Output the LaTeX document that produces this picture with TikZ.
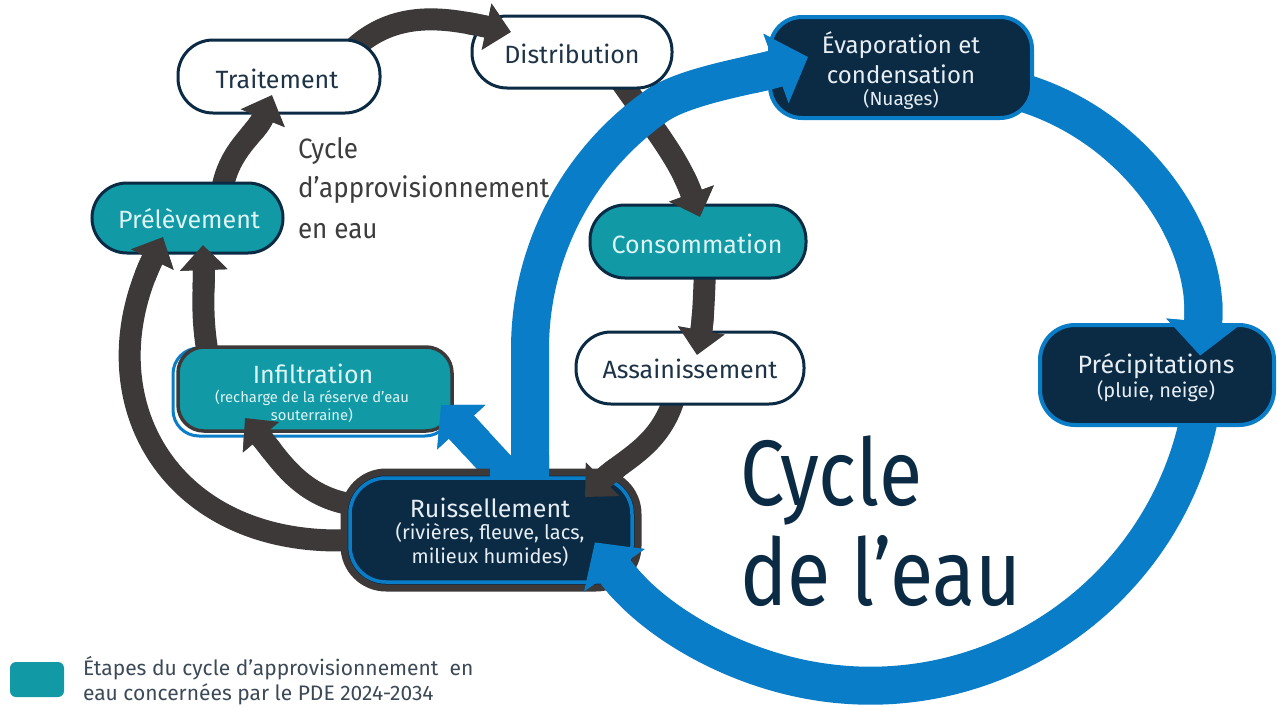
\documentclass[tikz,border=0pt]{standalone}
\usepackage{fontspec}
\setmainfont{Fira Sans}
\newfontfamily\bigfont{Fira Sans}[FakeStretch=0.85]
\newfontfamily\midfont{Fira Sans}[FakeStretch=0.93]
\usetikzlibrary{arrows.meta}
\pgfdeclarelayer{bg}
\pgfdeclarelayer{back}
\pgfsetlayers{bg,back,main}
\definecolor{navy}{HTML}{0B2A44}
\definecolor{ringblue}{HTML}{0A7DC8}
\definecolor{tealfill}{HTML}{1199A6}
\definecolor{arrowgray}{HTML}{3D3939}
\definecolor{labeldark}{HTML}{1E3346}
\definecolor{tealtext}{HTML}{DDF4F4}
\definecolor{navytext}{HTML}{E6EEF3}
\definecolor{cyclegray}{HTML}{3D3D3D}
\definecolor{legendtext}{HTML}{3C4957}
\begin{document}
\begin{tikzpicture}[x=1pt,y=-1pt,
  every node/.style={inner sep=0pt, outer sep=0pt},
  pill/.style={draw=navy, line width=3pt, rounded corners=35pt, minimum height=72pt},
  whitebox/.style={pill, fill=white},
  tealbox/.style={pill, fill=tealfill},
  navybox/.style={draw=ringblue, line width=4pt, fill=navy, rounded corners=32pt},
  lbl/.style={anchor=base, font=\fontsize{25}{30}\selectfont},
  small/.style={font=\fontsize{20}{24}\selectfont},
  garrow/.style={draw=arrowgray, line width=22pt, -{Triangle[width=46pt,length=25pt]}},
  barrow/.style={draw=ringblue, line width=38pt, -{Triangle[width=72pt,length=34pt]}},
  brarrow/.style={draw=ringblue, line width=34pt, -{Triangle[width=64pt,length=30pt]}},
]
\begin{pgfonlayer}{bg}
\fill[white] (0,0) rectangle (1278,707);
\end{pgfonlayer}
\useasboundingbox (0,0) rectangle (1278,707);

% ---------- boxes ----------
\node[whitebox, minimum width=202pt, minimum height=73pt] (trait) at (279,76.5) {};
\node[whitebox, minimum width=200pt] (distr) at (572,52) {};
\node[tealbox, minimum width=191pt, minimum height=70pt] (prel) at (187.5,218) {};
\node[tealbox, minimum width=216pt, minimum height=73pt] (cons) at (698,241.5) {};
\node[whitebox, minimum width=228pt] (assai) at (690,368) {};
\node[draw=ringblue, line width=3pt, rounded corners=26pt, minimum width=278pt, minimum height=88pt] (infhalo) at (312,392) {};
\node[draw=arrowgray, line width=3.5pt, fill=tealfill, rounded corners=26pt, minimum width=274pt, minimum height=84pt] (infil) at (315,389) {};
\node[draw=arrowgray, line width=7pt, fill=navy, rounded corners=42pt, minimum width=294pt, minimum height=116pt] (ruis) at (491,530) {};
\draw[ringblue, line width=3.5pt, rounded corners=36pt] ([shift={(6,-6)}]ruis.south west) rectangle ([shift={(-6,6)}]ruis.north east);
\node[navybox, minimum width=262pt, minimum height=101pt] (evap) at (901,67.5) {};
\node[navybox, minimum width=234pt, minimum height=100pt, rounded corners=35pt] (precip) at (1157,375) {};

% ---------- arrows, full (behind boxes) ----------
\begin{pgfonlayer}{back}
\draw[garrow] ([shift={(34.5,-28)}]prel.center) to[out=80,in=-112] ([shift={(-7,18.5)}]trait.center);
\draw[garrow] ([shift={(71,-24.5)}]trait.center) to[out=45,in=168] ([shift={(-61,-20)}]distr.center);
\draw[garrow] ([shift={(48,28)}]distr.center) to[out=-55,in=110] ([shift={(2,-24.5)}]cons.center);
\draw[garrow] ([shift={(7,28.5)}]cons.center) to[out=-92,in=80] ([shift={(7,-13)}]assai.center);
\draw[garrow] ([shift={(-15,27)}]assai.center) to[out=-105,in=45] ([shift={(94,-33)}]ruis.center);
\draw[garrow] ([shift={(-136,-25)}]ruis.center) to[out=172,in=-50] ([shift={(-70,29)}]infil.center);
\draw[garrow] ([shift={(-136,10)}]ruis.center) .. controls (170,550) and (85,400) .. ([shift={(-24.5,19)}]prel.center);
\draw[garrow] ([shift={(-107,-34)}]infil.center) to[out=100,in=-88] ([shift={(15.5,27)}]prel.center);
\draw[barrow] ([shift={(39,-40)}]ruis.center) -- ++(0,-141) arc[start angle=180, end angle=235, radius=297] .. controls +(30,-21) and +(-47,17) .. ([shift={(-93,-10.5)}]evap.center);
\draw[barrow] ([shift={(126,26.5)}]evap.center) arc[start angle=-72, end angle=5, radius=252];
\draw[barrow] ([shift={(44,33)}]precip.center) arc[start angle=10, end angle=145, radius=336];
\draw[brarrow] ([shift={(21,-48)}]ruis.center) -- ([shift={(126,16)}]infil.center);
\end{pgfonlayer}

% ---------- blue flow entering the top of Ruissellement ----------
\begin{scope}\clip (490,455) rectangle (570,479);
\draw[barrow] ([shift={(39,-40)}]ruis.center) -- ++(0,-141) arc[start angle=180, end angle=235, radius=297] .. controls +(30,-21) and +(-47,17) .. ([shift={(-93,-10.5)}]evap.center);
\draw[brarrow] ([shift={(21,-48)}]ruis.center) -- ([shift={(126,16)}]infil.center);
\end{scope}

% ---------- arrow heads over the boxes ----------
\begin{scope}\clip ([shift={(-7,18.5)}]trait.center) circle[radius=45];
\draw[garrow] ([shift={(34.5,-28)}]prel.center) to[out=80,in=-112] ([shift={(-7,18.5)}]trait.center);
\end{scope}
\begin{scope}\clip ([shift={(-61,-20)}]distr.center) circle[radius=45];
\draw[garrow] ([shift={(71,-24.5)}]trait.center) to[out=45,in=168] ([shift={(-61,-20)}]distr.center);
\end{scope}
\begin{scope}\clip ([shift={(2,-24.5)}]cons.center) circle[radius=45];
\draw[garrow] ([shift={(48,28)}]distr.center) to[out=-55,in=110] ([shift={(2,-24.5)}]cons.center);
\end{scope}
\begin{scope}\clip ([shift={(7,-13)}]assai.center) circle[radius=45];
\draw[garrow] ([shift={(7,28.5)}]cons.center) to[out=-92,in=80] ([shift={(7,-13)}]assai.center);
\end{scope}
\begin{scope}\clip ([shift={(94,-33)}]ruis.center) circle[radius=45];
\draw[garrow] ([shift={(-15,27)}]assai.center) to[out=-105,in=45] ([shift={(94,-33)}]ruis.center);
\end{scope}
\begin{scope}\clip ([shift={(-70,29)}]infil.center) circle[radius=45];
\draw[garrow] ([shift={(-136,-25)}]ruis.center) to[out=172,in=-50] ([shift={(-70,29)}]infil.center);
\end{scope}
\begin{scope}\clip ([shift={(-24.5,19)}]prel.center) circle[radius=45];
\draw[garrow] ([shift={(-136,10)}]ruis.center) .. controls (170,550) and (85,400) .. ([shift={(-24.5,19)}]prel.center);
\end{scope}
\begin{scope}\clip ([shift={(15.5,27)}]prel.center) circle[radius=45];
\draw[garrow] ([shift={(-107,-34)}]infil.center) to[out=100,in=-88] ([shift={(15.5,27)}]prel.center);
\end{scope}
\begin{scope}\clip (800,62) circle[radius=55];
\draw[barrow] ([shift={(39,-40)}]ruis.center) -- ++(0,-141) arc[start angle=180, end angle=235, radius=297] .. controls +(30,-21) and +(-47,17) .. ([shift={(-93,-10.5)}]evap.center);
\end{scope}
\begin{scope}\clip (1200,356) circle[radius=60];
\draw[barrow] ([shift={(126,26.5)}]evap.center) arc[start angle=-72, end angle=5, radius=252];
\end{scope}
\begin{scope}\clip (595,542) circle[radius=60];
\draw[barrow] ([shift={(44,33)}]precip.center) arc[start angle=10, end angle=145, radius=336];
\end{scope}
\begin{scope}\clip ([shift={(126,16)}]infil.center) circle[radius=55];
\draw[brarrow] ([shift={(21,-48)}]ruis.center) -- ([shift={(126,16)}]infil.center);
\end{scope}

% ---------- labels ----------
\node[lbl, text=labeldark] (t1) at (277,88) {Traitement};
\node[lbl, text=labeldark] (t2) at (572,63) {Distribution};
\node[lbl, text=tealtext] (t3) at (189,228) {Prélèvement};
\node[lbl, text=tealtext] (t4) at (697,253) {Consommation};
\node[lbl, text=labeldark] (t5) at (690,378) {Assainissement};
\node[lbl, text=tealtext] (t6) at (313,383) {Infiltration};
\node[lbl, text=tealtext, font=\fontsize{14.8}{18}\selectfont] (t7) at (312,402) {(recharge de la réserve d’eau};
\node[lbl, text=tealtext, font=\fontsize{14.8}{18}\selectfont] (t8) at (312,420) {souterraine)};
\node[lbl, text=navytext] (t9) at (490,517) {Ruissellement};
\node[lbl, text=navytext, small] (t10) at (490,539) {(rivières, fleuve, lacs,};
\node[lbl, text=navytext, small] (t11) at (490,563) {milieux humides)};
\node[lbl, text=navytext, font=\fontsize{24}{28}\selectfont] (t12) at (901,53) {Évaporation et};
\node[lbl, text=navytext, font=\fontsize{24}{28}\selectfont] (t13) at (901,83) {condensation};
\node[lbl, text=navytext, font=\fontsize{19}{22}\selectfont] (t14) at (901,105) {(Nuages)};
\node[lbl, text=navytext] (t15) at (1156,373) {Précipitations};
\node[lbl, text=navytext, small] (t16) at (1156,397) {(pluie, neige)};

\node[anchor=base west, text=cyclegray, font=\midfont\fontsize{28}{32}\selectfont] (c1) at (298,158) {Cycle};
\node[anchor=base west, text=cyclegray, font=\midfont\fontsize{28}{32}\selectfont] (c2) at (298,197) {d’approvisionnement};
\node[anchor=base west, text=cyclegray, font=\midfont\fontsize{28}{32}\selectfont] (c3) at (298,238) {en eau};

\node[anchor=base west, text=navy, font=\bigfont\fontsize{93}{100}\selectfont] (b1) at (740,505) {Cycle};
\node[anchor=base west, text=navy, font=\bigfont\fontsize{93}{100}\selectfont] (b2) at (740,605) {de l’eau};

% ---------- legend ----------
\node[fill=tealfill, rounded corners=6pt, minimum width=54pt, minimum height=35pt] (leg) at (37,679.5) {};
\node[anchor=base west, text=legendtext, font=\fontsize{21}{24}\selectfont] (l1) at (83,675) {Étapes du cycle d’approvisionnement~ en};
\node[anchor=base west, text=legendtext, font=\fontsize{21}{24}\selectfont] (l2) at (83,700) {eau concernées par le PDE 2024-2034};
\end{tikzpicture}
\end{document}
